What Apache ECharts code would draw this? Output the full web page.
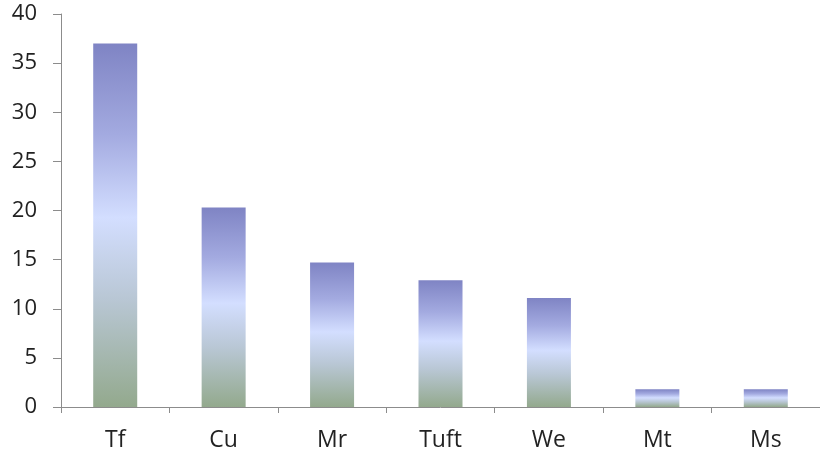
<!DOCTYPE html>
<html>
<head>
<meta charset="utf-8">
<script src="https://cdn.jsdelivr.net/npm/echarts@6/dist/echarts.min.js"></script>
<style>
  html, body { margin: 0; padding: 0; background: #fff; }
  #chart { width: 820px; height: 461px; }
</style>
</head>
<body>
<div id="chart"></div>
<script>
// Categories and their values
const categories = ['Tf', 'Cu', 'Mr', 'Tuft', 'We', 'Mt', 'Ms'];
const values = [37, 20.3, 14.7, 12.9, 11.1, 1.8, 1.8];
const yTicks = { min: 0, max: 40, interval: 5 };

const chart = echarts.init(document.getElementById('chart'));

// Vertical gradient applied to each bar: violet top, pale blue middle, sage green base
const barFill = new echarts.graphic.LinearGradient(0, 0, 0, 1, [
  { offset: 0, color: '#7f84c4' },
  { offset: 0.25, color: '#a3aae0' },
  { offset: 0.48, color: '#d3deff' },
  { offset: 0.7, color: '#b9c7d5' },
  { offset: 1, color: '#93a98d' }
]);

chart.setOption({
  animation: false,
  backgroundColor: '#ffffff',
  grid: { left: 61, top: 14, width: 762, bottom: 54, containLabel: false },
  xAxis: {
    type: 'category',
    data: categories,
    axisLine: { lineStyle: { color: '#8c8c8c', width: 1 } },
    axisTick: { show: true, length: 6, alignWithLabel: false, lineStyle: { color: '#8c8c8c' } },
    axisLabel: { color: '#222', fontSize: 23, fontFamily: 'Open Sans', margin: 22 }
  },
  yAxis: {
    type: 'value',
    min: yTicks.min,
    max: yTicks.max,
    interval: yTicks.interval,
    axisLine: { show: true, lineStyle: { color: '#8c8c8c', width: 1 } },
    axisTick: { show: true, length: 8, lineStyle: { color: '#8c8c8c' } },
    axisLabel: { color: '#222', fontSize: 22, fontFamily: 'Open Sans', margin: 24 },
    splitLine: { show: false }
  },
  series: [{
    type: 'bar',
    data: values,
    barWidth: 44,
    itemStyle: { color: barFill }
  }]
});
</script>
</body>
</html>
